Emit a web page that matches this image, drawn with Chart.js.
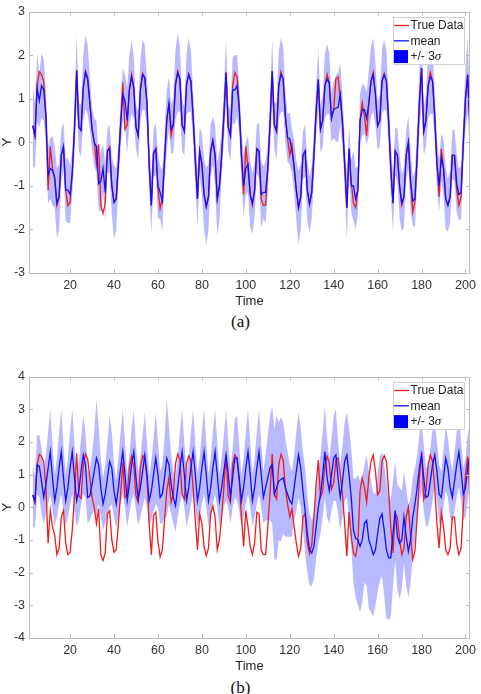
<!DOCTYPE html>
<html><head><meta charset="utf-8">
<script src="https://cdn.jsdelivr.net/npm/chart.js@4.4.0/dist/chart.umd.min.js"></script>
<style>
html,body{margin:0;padding:0;background:#fff;width:481px;height:694px;overflow:hidden;}
canvas{position:absolute;left:0;}
.cap{position:absolute;left:0;width:481px;text-align:center;font-family:"Liberation Serif","DejaVu Serif",serif;font-size:17px;color:#111;}
</style></head><body>
<canvas id="ca" width="481" height="310" style="top:0px"></canvas>
<div class="cap" style="top:312px">(a)</div>
<canvas id="cb" width="481" height="310" style="top:365px"></canvas>
<div class="cap" style="top:678px">(b)</div>
<script>
// time steps 3..202
const START_T = 3;
const TICKS_X = [20,40,60,80,100,120,140,160,180,200];

const TRUE_DATA = [
 0.38,0.15,1.3,1.62,1.55,1.4,0.6,-1.1,-0.1,-0.6,
 -0.85,-1.45,-1.25,-0.3,-0.1,-1.1,-1.45,-1.38,-0.7,0.3,
 1.65,0.35,0.27,1.25,1.63,1.48,0.9,0.3,0.0,-0.5,
 -0.05,-1.45,-1.63,-1.4,-0.2,-0.11,-1.0,-1.38,-1.3,-0.5,
 0.4,1.37,0.3,0.4,1.2,1.56,1.25,0.35,0.15,1.2,
 1.58,1.48,0.9,-0.5,-1.45,-0.25,-0.15,-1.05,-1.52,-1.3,
 -0.4,0.5,0.9,0.15,0.4,1.33,1.63,1.45,0.4,0.25,
 1.33,1.57,1.4,0.6,-0.4,-1.3,-0.2,-0.5,-1.2,-1.48,
 -1.25,-0.2,0.04,-0.3,-1.3,-1.0,-0.3,0.6,1.6,0.35,
 0.15,1.3,1.6,1.5,0.8,-0.3,-1.2,-0.1,-0.6,-1.2,
 -1.45,-1.1,-0.15,-0.2,-1.3,-1.45,-1.45,-0.6,0.4,1.63,
 0.4,0.25,1.3,1.62,1.45,0.6,0.1,-0.3,-0.05,-0.6,
 -1.1,-1.5,-1.25,-0.3,-0.2,-1.1,-1.42,-1.15,-0.3,0.7,
 1.44,0.3,0.5,1.3,1.56,1.35,0.55,0.75,1.45,1.5,
 1.0,0.4,-0.5,-1.5,-0.15,-0.9,-1.4,-1.5,-1.1,0.5,
 0.9,0.6,0.15,0.9,1.4,1.6,1.1,0.38,0.5,1.4,
 1.58,1.4,0.5,-0.6,-1.4,-0.2,-0.3,-1.0,-1.45,-1.25,
 -0.3,0.0,-0.9,-1.6,-1.35,-0.3,0.9,1.7,0.25,0.5,
 1.3,1.6,1.4,0.6,-0.5,-1.25,-0.15,-0.6,-1.3,-1.45,
 -1.25,-0.3,-0.3,-1.1,-1.45,-1.25,0.0,1.0,1.55,0.38
];

const MEAN_A = [
 0.38,0.15,1.25,0.95,1.3,1.2,0.6,-0.75,-0.6,-0.65,
 -0.8,-1.4,-1.25,-0.3,-0.1,-1.1,-1.1,-1.2,-0.7,0.3,
 1.65,0.35,0.27,1.25,1.6,1.45,0.9,0.3,0.0,-0.1,
 -0.95,-0.9,-0.6,-1.15,-0.2,-0.15,-1.0,-1.38,-1.3,-0.5,
 0.4,1.1,0.95,0.5,1.2,1.5,1.25,0.35,0.15,1.2,
 1.55,1.48,0.9,-0.5,-1.45,-0.25,-0.15,-1.0,-1.15,-1.35,
 -0.4,0.5,0.9,0.3,0.4,1.33,1.6,1.45,0.4,0.25,
 1.33,1.55,1.4,0.6,-0.4,-1.3,-0.2,-0.5,-1.2,-1.48,
 -1.25,-0.2,0.04,-0.3,-1.3,-1.0,-0.3,0.6,1.6,0.35,
 0.15,1.2,1.2,1.3,0.8,-0.3,-1.0,-0.6,-0.5,-1.2,
 -1.4,-1.1,-0.15,-0.2,-1.2,-1.15,-1.15,-0.6,0.4,1.63,
 0.4,0.25,1.3,1.55,1.45,0.6,0.1,0.08,-0.2,-0.55,
 -1.1,-1.5,-1.25,-0.3,-0.2,-1.1,-1.42,-1.15,-0.3,0.7,
 1.44,0.3,0.5,1.3,1.45,1.35,0.55,0.75,0.78,0.8,
 1.1,0.5,-0.5,-1.5,-0.15,-1.0,-1.0,-1.3,-1.1,0.5,
 0.75,0.75,0.55,0.9,1.4,1.55,1.1,0.38,0.5,1.4,
 1.55,1.4,0.5,-0.6,-1.4,-0.2,-0.3,-1.0,-1.4,-1.25,
 -0.3,0.0,-0.9,-1.35,-1.3,-0.3,0.9,1.7,0.25,0.5,
 1.3,1.5,1.4,0.6,-0.5,-1.0,-0.35,-0.6,-1.3,-1.45,
 -1.25,-0.3,-0.3,-0.95,-1.2,-1.15,0.0,1.0,1.55,0.38
];

const SIGMA3_A = [
 0.9,0.75,0.8,0.6,0.75,0.7,0.6,0.65,0.7,0.8,
 0.7,0.8,0.75,0.6,0.55,0.7,0.75,0.65,0.5,0.6,
 0.8,0.55,0.6,0.75,0.85,0.8,0.6,0.5,0.55,0.6,
 0.6,0.7,0.55,0.65,0.5,0.55,0.65,0.85,0.7,0.5,
 0.55,0.6,0.6,0.75,0.8,0.85,0.7,0.5,0.55,0.7,
 0.8,0.75,0.55,0.6,0.65,0.55,0.6,0.75,0.6,0.7,
 0.55,0.7,0.6,0.55,0.65,0.8,0.9,0.75,0.6,0.55,
 0.7,0.85,0.7,0.55,0.6,0.65,0.55,0.7,0.8,0.9,
 0.75,0.6,0.55,0.7,0.85,0.8,0.55,0.6,0.75,0.55,
 0.6,0.75,0.8,0.7,0.55,0.6,0.7,0.6,0.65,0.75,
 0.7,0.6,0.55,0.65,0.75,0.6,0.7,0.55,0.6,0.75,
 0.55,0.65,0.8,0.85,0.75,0.6,0.55,0.6,0.5,0.6,
 0.7,0.85,0.75,0.55,0.6,0.7,0.65,0.6,0.55,0.6,
 0.7,0.55,0.6,0.75,0.8,0.7,0.55,0.65,0.75,0.8,
 0.7,0.6,0.55,0.75,0.55,0.6,0.8,0.7,0.55,0.6,
 0.6,0.55,0.6,0.75,0.8,0.85,0.7,0.55,0.6,0.75,
 0.8,0.7,0.55,0.6,0.65,0.55,0.6,0.75,0.65,0.7,
 0.55,0.6,0.7,0.55,0.65,0.6,0.7,0.8,0.55,0.6,
 0.75,0.85,0.75,0.6,0.55,0.6,0.55,0.65,0.7,0.6,
 0.6,0.55,0.6,0.65,0.6,0.6,0.55,0.7,0.85,0.65
];

const MEAN_B = [
 0.38,0.17,1.3,1.25,0.8,0.3,0.7,1.2,1.7,0.9,
 0.2,0.6,1.2,1.7,0.9,0.2,0.6,1.2,1.7,0.9,
 0.2,0.5,1.1,1.6,1.3,0.3,0.35,0.7,1.1,1.5,
 1.3,0.6,0.1,0.4,0.9,1.4,1.2,0.5,0.1,0.6,
 1.2,1.7,1.0,0.2,0.7,1.3,1.7,0.9,0.25,0.6,
 1.1,1.6,1.0,0.2,0.5,1.0,1.5,1.0,0.3,0.4,
 0.9,1.5,1.3,0.7,0.3,0.05,0.6,1.2,1.7,1.0,
 0.2,0.6,1.2,1.7,1.0,0.2,0.6,1.2,1.7,1.0,
 0.2,0.6,1.2,1.7,1.0,0.2,0.6,1.1,1.6,1.0,
 0.3,0.9,1.5,1.5,0.9,0.2,0.6,1.2,1.7,1.0,
 0.2,0.6,1.2,1.7,1.0,0.3,0.6,0.9,1.2,1.3,
 0.4,0.6,0.8,0.85,0.9,0.6,0.4,0.2,0.1,0.6,
 1.1,1.6,1.2,0.5,-0.1,-0.8,-1.3,-1.4,-1.2,-0.6,
 0.0,0.4,1.0,1.7,0.9,0.5,1.0,1.5,1.6,0.9,
 0.3,0.8,1.4,1.6,1.0,0.3,-0.7,-0.95,-1.0,-1.2,
 -1.0,-0.5,-0.4,-1.0,-1.2,-1.45,-1.3,-0.8,-0.35,-0.2,
 -0.7,-1.3,-1.55,-1.55,-0.8,-0.1,-0.9,-1.1,-1.0,-0.3,
 -0.9,-1.35,-1.0,-0.3,0.1,0.6,1.2,1.6,0.9,0.3,
 0.35,0.8,1.3,1.6,1.1,0.4,0.3,0.9,1.5,1.2,
 0.6,0.3,0.8,1.3,1.7,1.1,0.4,0.6,1.2,1.6
];

const SIGMA3_B = [
 0.95,0.8,0.9,0.95,1.0,0.8,0.9,1.1,1.3,1.0,
 0.8,0.9,1.1,1.3,1.0,0.8,0.9,1.1,1.3,1.0,
 0.8,0.9,1.0,1.2,1.0,0.8,0.75,0.9,1.2,1.8,
 1.2,0.9,0.8,0.9,1.1,1.4,1.1,0.8,0.75,0.9,
 1.1,1.3,1.0,0.8,0.9,1.1,1.3,1.0,0.8,0.9,
 1.1,1.3,1.0,0.8,0.9,1.1,1.4,1.0,0.8,0.9,
 1.2,1.8,1.2,0.9,0.8,0.8,0.9,1.1,1.3,1.0,
 0.8,0.9,1.1,1.3,1.0,0.8,0.9,1.1,1.3,1.0,
 0.8,0.9,1.1,1.3,1.0,0.8,0.9,1.1,1.4,1.0,
 0.8,0.9,1.2,1.3,1.0,0.8,0.9,1.1,1.3,1.0,
 0.8,0.9,1.1,1.3,1.0,0.8,1.0,1.3,1.6,1.8,
 2.0,2.2,1.8,1.9,1.7,1.5,1.3,1.1,1.0,1.0,
 1.2,1.3,1.2,1.2,1.3,1.2,1.1,1.0,1.0,1.0,
 1.1,1.2,1.3,1.4,1.2,1.0,1.1,1.3,1.4,1.1,
 1.0,1.1,1.2,1.3,1.4,1.5,1.6,1.8,2.0,2.0,
 1.9,1.8,2.0,2.1,2.0,1.9,1.7,1.8,1.9,1.9,
 2.0,2.1,1.9,1.8,1.6,1.5,1.6,1.7,1.5,1.4,
 1.5,1.4,1.3,1.2,1.1,1.0,1.0,1.1,1.0,0.9,
 0.9,1.0,1.1,1.0,0.9,0.9,0.8,0.9,1.0,0.9,
 0.9,0.8,0.9,1.0,1.1,0.9,0.8,0.9,1.0,1.0
];

const FONT = '"Liberation Sans", Arial, Helvetica, sans-serif';
const AXIS_COLOR = '#bcbcbc';
const TEXT_COLOR = '#333333';

function pts(vals){ return vals.map((v,i)=>({x:START_T+i, y:v})); }

const framePlugin = {
  id:'frame',
  afterDatasetsDraw(chart){
    const {ctx, chartArea:a, scales} = chart;
    const x = scales.x, y = scales.y;
    ctx.save();
    ctx.strokeStyle = AXIS_COLOR; ctx.lineWidth = 1;
    ctx.strokeRect(Math.round(a.left)+0.5, Math.round(a.top)+0.5, Math.round(a.right-a.left)-1, Math.round(a.bottom-a.top)-1);
    ctx.beginPath();
    x.ticks.forEach(t=>{
      const px = Math.round(x.getPixelForValue(t.value))+0.5;
      ctx.moveTo(px,a.bottom); ctx.lineTo(px,a.bottom-4);
      ctx.moveTo(px,a.top); ctx.lineTo(px,a.top+4);
    });
    y.ticks.forEach(t=>{
      const py = Math.round(y.getPixelForValue(t.value))+0.5;
      ctx.moveTo(a.left,py); ctx.lineTo(a.left+4,py);
      ctx.moveTo(a.right,py); ctx.lineTo(a.right-4,py);
    });
    ctx.stroke();
    ctx.restore();
  }
};

const legendPlugin = {
  id:'boxLegend',
  afterDraw(chart){
    const {ctx, chartArea:a} = chart;
    const items = chart.data.datasets.filter(d=>d.legendOrder!==undefined).sort((p,q)=>p.legendOrder-q.legendOrder);
    const w = 71, h = 47;
    const bx = Math.round(a.right - 6 - w), by = Math.round(a.top + 5);
    ctx.save();
    ctx.fillStyle = '#fff'; ctx.fillRect(bx,by,w,h);
    ctx.strokeStyle = '#cfcfcf'; ctx.lineWidth = 1; ctx.strokeRect(bx+0.5,by+0.5,w,h);
    items.forEach((d,i)=>{
      const cy = by + 8.5 + i*15.3;
      if (d.legendBox) {
        ctx.fillStyle = d.legendBox;
        ctx.fillRect(bx+1, cy-6, 14, 13);
      } else {
        ctx.strokeStyle = d.borderColor; ctx.lineWidth = 1.3;
        ctx.beginPath(); ctx.moveTo(bx+1,cy); ctx.lineTo(bx+16,cy); ctx.stroke();
      }
      ctx.fillStyle = '#222'; ctx.textBaseline = 'middle'; ctx.textAlign = 'left';
      ctx.font = '12px ' + FONT;
      const lab = d.label;
      if (lab.endsWith('σ')) {
        const pre = lab.slice(0,-1);
        ctx.fillText(pre, bx+17.5, cy+0.5);
        const wpre = ctx.measureText(pre).width;
        ctx.font = 'italic 13px "Liberation Serif", "DejaVu Serif", serif';
        ctx.fillText('σ', bx+17.5+wpre, cy+0.5);
      } else {
        ctx.fillText(lab, bx+17.5, cy+0.5);
      }
    });
    ctx.restore();
  }
};

function makeChart(id, mean, sig, ymin, ymax){
  const upper = mean.map((m,i)=>m+sig[i]);
  const lower = mean.map((m,i)=>m-sig[i]);
  return new Chart(document.getElementById(id), {
    type:'line',
    data:{ datasets:[
      {label:'mean', data:pts(mean), borderColor:'#1010ff', borderWidth:1.3, pointRadius:0, tension:0, fill:false, legendOrder:1},
      {label:'True Data', data:pts(TRUE_DATA), borderColor:'#f01c1c', borderWidth:1.3, pointRadius:0, tension:0, fill:false, legendOrder:0},
      {label:'+/- 3σ', data:pts(upper), borderWidth:0, borderColor:'rgba(0,0,0,0)', backgroundColor:'rgba(60,60,255,0.36)', pointRadius:0, tension:0, fill:'+1', legendOrder:2, legendBox:'#0000ff'},
      {label:'', data:pts(lower), borderWidth:0, borderColor:'rgba(0,0,0,0)', pointRadius:0, tension:0, fill:false}
    ]},
    options:{
      responsive:false, animation:false, events:[],
      layout:{padding:{top:10,right:8,left:0,bottom:0}},
      plugins:{legend:{display:false}, tooltip:{enabled:false}},
      scales:{
        x:{type:'linear', min:1.3, max:202,
           afterBuildTicks:s=>{ s.ticks = TICKS_X.map(v=>({value:v})); },
           afterFit:s=>{ s.height = 37; },
           grid:{display:false, drawTicks:false},
           border:{display:false},
           ticks:{padding:5, color:TEXT_COLOR, font:{family:FONT,size:12.5}, maxRotation:0, autoSkip:false},
           title:{display:true, text:'Time', color:'#222', font:{family:FONT,size:13}, padding:{top:0,bottom:1}}},
        y:{type:'linear', min:ymin, max:ymax,
           afterFit:s=>{ s.width = 29; },
           grid:{display:false, drawTicks:false},
           border:{display:false},
           ticks:{stepSize:1, padding:4, color:TEXT_COLOR, font:{family:FONT,size:12.5}},
           title:{display:true, text:'Y', color:'#222', font:{family:FONT,size:13}, padding:{top:0,bottom:0}}}
      }
    },
    plugins:[framePlugin, legendPlugin]
  });
}

makeChart('ca', MEAN_A, SIGMA3_A, -3, 3);
makeChart('cb', MEAN_B, SIGMA3_B, -4, 4);
</script>
</body></html>
